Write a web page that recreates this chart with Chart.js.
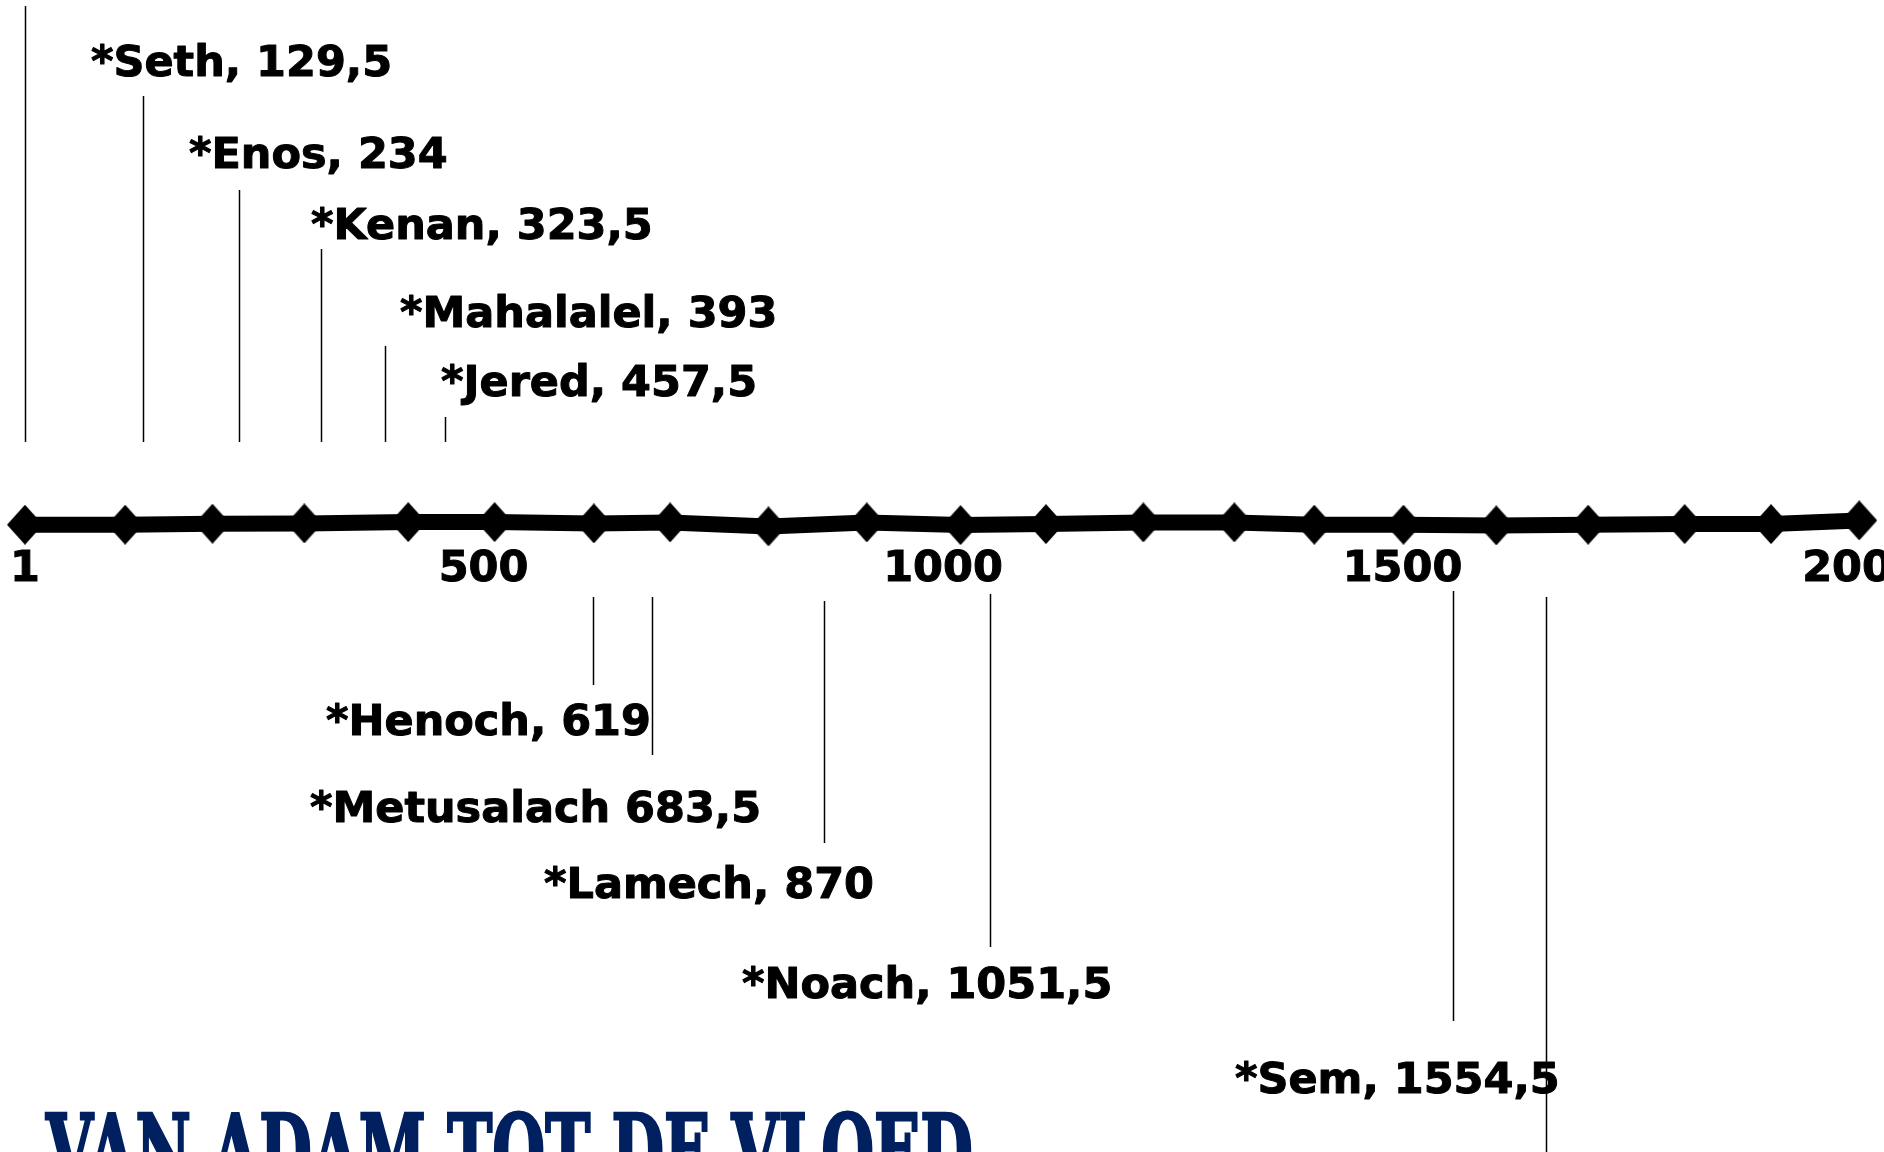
<!DOCTYPE html>
<html>
<head>
<meta charset="utf-8">
<script src="https://cdn.jsdelivr.net/npm/chart.js@4.4.1/dist/chart.umd.min.js"></script>
<style>
  html, body { margin: 0; padding: 0; background: #fff; overflow: hidden; }
  #wrap { position: relative; width: 1884px; height: 1152px; overflow: hidden; }
  #timeline { position: absolute; left: 0; top: 0; }
  #title {
    position: absolute; left: 46px; top: 1101px; margin: 0;
    font-family: "DejaVu Serif", serif; font-weight: bold;
    font-size: 100px; line-height: 1; color: #002060; white-space: nowrap;
    -webkit-text-stroke: 3px #002060;
    transform-origin: 0 0;
  }
</style>
</head>
<body>
<div id="wrap">
  <canvas id="timeline" width="1960" height="1152"></canvas>
  <div id="title">VAN ADAM TOT DE VLOED</div>
</div>
<script>
// markers along the time line (years after creation)
const markerYears = [1, 110, 205, 305, 418, 512, 620, 703, 810, 917, 1019, 1112, 1218, 1317, 1404, 1501, 1602, 1702, 1807, 1901, 1997];
// the hand drawn line is not quite straight
const markerWobble = [-1.3, -1.3, -0.3, 0, 1.3, 1.3, 0, 1, -3, 1, -1.7, -0.7, 1, 1, -1.3, -1.3, -2, -1.3, -0.7, -0.7, 3];
const axisTicks = [1, 500, 1000, 1500, 2000];

// births
const names = ["Adam", "Seth", "Enos", "Kenan", "Mahalalel", "Jered", "Henoch", "Metusalach", "Lamech", "Noach", "Sem"];
const birthYears = [1, 129.5, 234, 323.5, 393, 457.5, 619, 683.5, 870, 1051.5, 1554.5];
const birthLabels = ["", "*Seth, 129,5", "*Enos, 234", "*Kenan, 323,5", "*Mahalalel, 393", "*Jered, 457,5",
  "*Henoch, 619", "*Metusalach 683,5", "*Lamech, 870", "*Noach, 1051,5", "*Sem, 1554,5"];
const floodYear = 1656;

// layout of the call-outs (pixels)
const leaderTop = [6, 96, 190, 249, 346, 417, 597, 597, 601, 594, 591];
const leaderBottom = [442, 442, 442, 442, 442, 442, 685, 755, 843, 947, 1021];
const labelPos = [[0, 0], [91, 76], [189, 168], [311, 239], [400, 327], [441, 396],
  [326, 735], [310, 822], [544, 898], [742, 998], [1235, 1093]];
const floodLeader = [597, 1152];

const labelFont = 'bold 43px "DejaVu Sans"';

function diamond(w, h) {
  const c = document.createElement("canvas");
  c.width = w; c.height = h;
  const g = c.getContext("2d");
  g.fillStyle = "#000";
  g.beginPath();
  g.moveTo(w / 2, 0); g.lineTo(w, h / 2); g.lineTo(w / 2, h); g.lineTo(0, h / 2);
  g.closePath();
  g.fill();
  return c;
}

// leader lines + names
const leaders = {
  id: "leaders",
  afterDraw(chart) {
    const g = chart.ctx, xs = chart.scales.x;
    g.save();
    g.strokeStyle = "#000";
    g.lineWidth = 1.5;
    birthYears.forEach((yr, i) => {
      const px = Math.round(xs.getPixelForValue(yr)) + 0.5;
      g.beginPath();
      g.moveTo(px, leaderTop[i]);
      g.lineTo(px, leaderBottom[i]);
      g.stroke();
    });
    const fx = Math.round(xs.getPixelForValue(floodYear)) + 0.5;
    g.beginPath();
    g.moveTo(fx, floodLeader[0]);
    g.lineTo(fx, floodLeader[1]);
    g.stroke();

    g.fillStyle = "#000";
    g.font = labelFont;
    g.lineWidth = 1;
    g.lineJoin = "round";
    g.textBaseline = "alphabetic";
    birthLabels.forEach((t, i) => {
      if (!t) return;
      g.fillText(t, labelPos[i][0], labelPos[i][1]);
      g.strokeText(t, labelPos[i][0], labelPos[i][1]);
    });
    g.restore();
  }
};

const ctx = document.getElementById("timeline");
new Chart(ctx, {
  type: "line",
  data: {
    datasets: [{
      data: markerYears.map((x, i) => ({ x: x, y: markerWobble[i] })),
      borderColor: "#000",
      borderWidth: 16,
      borderCapStyle: "butt",
      pointStyle: diamond(36, 40),
      pointRadius: 18,
      tension: 0,
      clip: false
    }]
  },
  options: {
    responsive: false,
    animation: false,
    events: [],
    layout: { autoPadding: false, padding: { left: 25, right: 1960 - 1862, top: 0, bottom: 552 } },
    plugins: { legend: { display: false }, tooltip: { enabled: false } },
    scales: {
      x: {
        type: "linear",
        min: 1,
        max: 2000,
        afterBuildTicks: (axis) => { axis.ticks = axisTicks.map(v => ({ value: v })); },
        grid: { display: false, drawTicks: false },
        border: { display: false },
        ticks: {
          color: "#000",
          font: { family: "DejaVu Sans", size: 43, weight: "bold" },
          textStrokeColor: "#000",
          textStrokeWidth: 1,
          padding: 4,
          maxRotation: 0,
          autoSkip: false,
          callback: (v) => String(v)
        }
      },
      y: { display: false, min: -17, max: 523 }
    }
  },
  plugins: [leaders]
});

// squeeze the title to the width it has in the picture
const title = document.getElementById("title");
const tw = title.getBoundingClientRect().width;
title.style.transform = "scaleX(" + (927 / tw) + ")";
</script>
</body>
</html>
